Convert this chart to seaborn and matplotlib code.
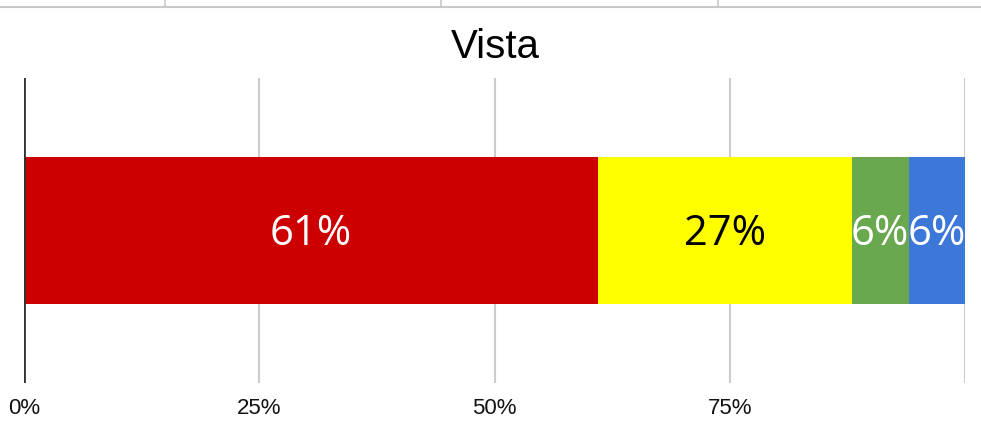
import matplotlib
matplotlib.use("Agg")
import matplotlib.pyplot as plt
import seaborn as sns
import pandas as pd
import numpy as np
from matplotlib.lines import Line2D

# ---- data ----
category = ["Vista"]
segments = ["Segment A", "Segment B", "Segment C", "Segment D"]
values = [61, 27, 6, 6]
colors = ["#cc0000", "#ffff00", "#6aa84f", "#3c78d8"]
label_colors = ["white", "black", "white", "white"]
tick_values = [0, 25, 50, 75, 100]
tick_labels = ["0%", "25%", "50%", "75%", ""]
title = "Vista"

sns.set_theme(style="white")
plt.rcParams["font.family"] = ["Liberation Sans", "DejaVu Sans"]

fig = plt.figure(figsize=(9.81, 4.32), dpi=100)
W, H = 981, 432
ax = fig.add_axes([24 / W, (H - 383) / H, (965 - 24) / W, (383 - 78) / H])

cum = np.cumsum(values)
# draw from the outermost cumulative extent to the innermost
for i in range(len(values) - 1, -1, -1):
    df = pd.DataFrame({"cat": category, "val": [cum[i]]})
    sns.barplot(data=df, x="val", y="cat", orient="h", color=colors[i],
                saturation=1, width=0.48, ax=ax, linewidth=0, zorder=3)

starts = np.concatenate([[0], cum[:-1]])
for s, v, lc in zip(starts, values, label_colors):
    ax.text(s + v / 2, 0.012, f"{v}%", ha="center", va="center", color=lc,
            fontsize=30, fontweight="medium",
            family=["Open Sans", "DejaVu Sans"], zorder=5)

ax.set_xlim(0, 100)
ax.set_ylim(0.5, -0.5)
ax.set_xticks(tick_values)
ax.set_xticklabels(tick_labels, fontsize=16, color="#111111")
ax.set_yticks([])
ax.set_xlabel("")
ax.set_ylabel("")
ax.tick_params(axis="x", length=0, pad=11)
for sp in ax.spines.values():
    sp.set_visible(False)
for t in tick_values:
    ax.axvline(t, color="#333333" if t == 0 else "#cccccc",
               lw=2 if t == 0 else 1.5, zorder=1 if t else 6)

fig.text(495 / W, 1 - 47 / H, title, ha="center", va="center",
         fontsize=29, color="black")

# top border remnants
fig.add_artist(Line2D([0, 1], [1 - 7 / H, 1 - 7 / H], color="#c8c8c8", lw=1.5))
for xv in [165, 441, 718]:
    fig.add_artist(Line2D([xv / W, xv / W], [1, 1 - 7 / H], color="#c8c8c8", lw=1.2))

fig.savefig("out.png", dpi=100, facecolor="white")
